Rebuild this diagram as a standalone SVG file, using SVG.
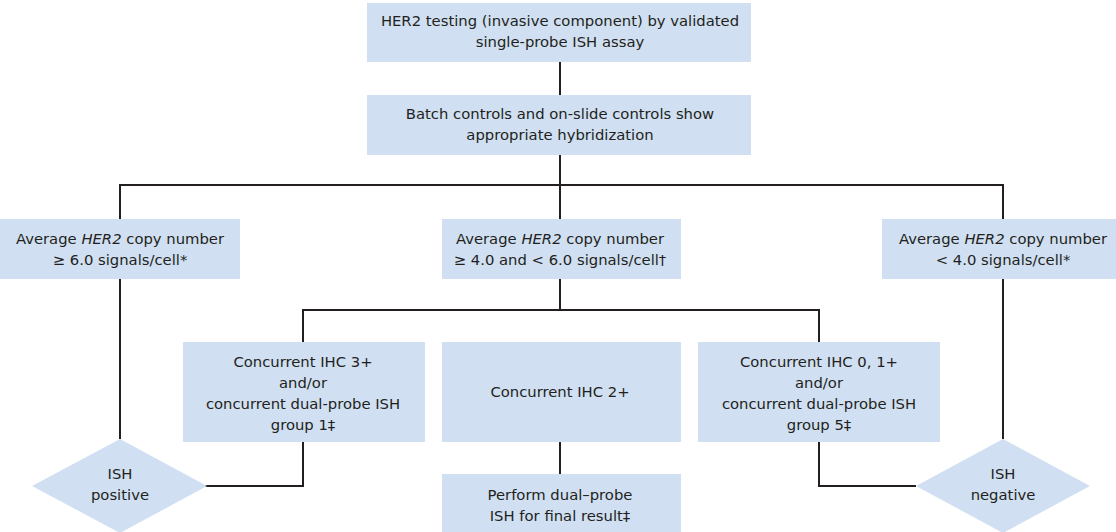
<svg xmlns="http://www.w3.org/2000/svg" width="1116" height="532" viewBox="0 0 1116 532">
  <style>
    .box { fill: #d0e0f2; }
    .lbl { font-family: "DejaVu Sans", Verdana, sans-serif; font-size: 14.8px; fill: #231f20; text-anchor: middle; }
    .wire { fill: none; stroke: #231f20; stroke-width: 2; }
  </style>
  <rect width="1116" height="532" fill="#ffffff"/>

  <!-- connectors -->
  <g id="connectors" class="wire">
    <path d="M560 62 V95"/>
    <path d="M560 155 V185"/>
    <path d="M120 219 V185 H1003 V219"/>
    <path d="M560 185 V219"/>
    <path d="M120 279 V439"/>
    <path d="M1003 279 V439"/>
    <path d="M560 279 V310"/>
    <path d="M303 342 V310 H819 V342"/>
    <path d="M560 442 V474"/>
    <path d="M205 486 H303 V442"/>
    <path d="M916 486 H819 V442"/>
  </g>

  <g id="start">
    <rect class="box" x="367" y="3" width="384" height="59"/>
    <text class="lbl" x="560" y="26">HER2 testing (invasive component) by validated</text>
    <text class="lbl" x="560" y="47">single-probe ISH assay</text>
  </g>

  <g id="controls">
    <rect class="box" x="367" y="95" width="384" height="60"/>
    <text class="lbl" x="560" y="119">Batch controls and on-slide controls show</text>
    <text class="lbl" x="560" y="140">appropriate hybridization</text>
  </g>

  <g id="high">
    <rect class="box" x="0" y="219" width="240" height="60"/>
    <text class="lbl" x="120" y="244">Average <tspan font-style="italic">HER2</tspan> copy number</text>
    <text class="lbl" x="120" y="265">≥ 6.0 signals/cell*</text>
  </g>

  <g id="mid">
    <rect class="box" x="442" y="219" width="239" height="60"/>
    <text class="lbl" x="560" y="244">Average <tspan font-style="italic">HER2</tspan> copy number</text>
    <text class="lbl" x="560" y="265">≥ 4.0 and &lt; 6.0 signals/cell†</text>
  </g>

  <g id="low">
    <rect class="box" x="882" y="219" width="234" height="60"/>
    <text class="lbl" x="1003" y="244">Average <tspan font-style="italic">HER2</tspan> copy number</text>
    <text class="lbl" x="1003" y="265">&lt; 4.0 signals/cell*</text>
  </g>

  <g id="ihc3">
    <rect class="box" x="183" y="342" width="242" height="100"/>
    <text class="lbl" x="303" y="367">Concurrent IHC 3+</text>
    <text class="lbl" x="303" y="388">and/or</text>
    <text class="lbl" x="303" y="409">concurrent dual-probe ISH</text>
    <text class="lbl" x="303" y="430">group 1‡</text>
  </g>

  <g id="ihc2">
    <rect class="box" x="442" y="342" width="239" height="100"/>
    <text class="lbl" x="560" y="397">Concurrent IHC 2+</text>
  </g>

  <g id="ihc01">
    <rect class="box" x="698" y="342" width="242" height="100"/>
    <text class="lbl" x="819" y="367">Concurrent IHC 0, 1+</text>
    <text class="lbl" x="819" y="388">and/or</text>
    <text class="lbl" x="819" y="409">concurrent dual-probe ISH</text>
    <text class="lbl" x="819" y="430">group 5‡</text>
  </g>

  <g id="dual">
    <rect class="box" x="442" y="474" width="239" height="58"/>
    <text class="lbl" x="560" y="500">Perform dual–probe</text>
    <text class="lbl" x="560" y="521">ISH for final result‡</text>
  </g>

  <g id="positive">
    <polygon class="box" points="120,439 207,486 120,533 32,486"/>
    <text class="lbl" x="120" y="479">ISH</text>
    <text class="lbl" x="120" y="500">positive</text>
  </g>

  <g id="negative">
    <polygon class="box" points="1003,439 1090,486 1003,533 916,486"/>
    <text class="lbl" x="1003" y="479">ISH</text>
    <text class="lbl" x="1003" y="500">negative</text>
  </g>
</svg>
